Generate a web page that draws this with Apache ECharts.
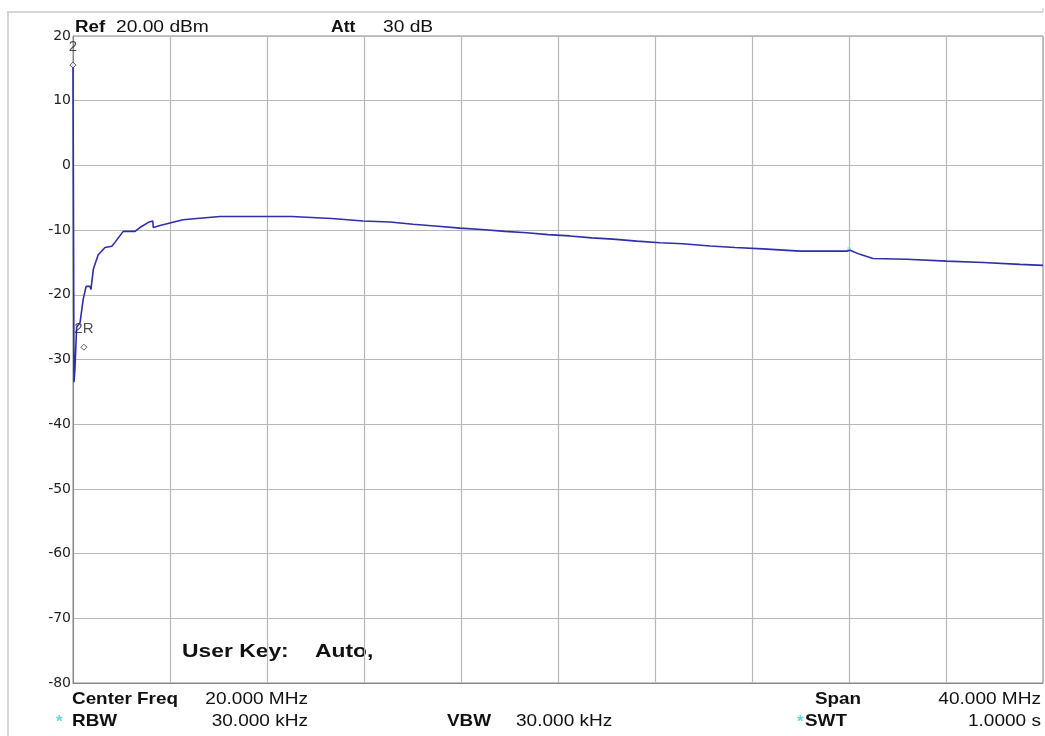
<!DOCTYPE html>
<html>
<head>
<meta charset="utf-8">
<script src="https://cdn.jsdelivr.net/npm/echarts@6/dist/echarts.min.js"></script>
<style>
html,body{margin:0;padding:0;background:#fff;}
#c{width:1045px;height:736px;}
</style>
</head>
<body>
<div id="c"></div>
<script>
// Frequency in MHz, level in dBm (trace 1)
const freqMHz = [0, 0.04, 0.08, 0.15, 0.29, 0.42, 0.54, 0.70, 0.74, 0.84, 1.04, 1.32, 1.60, 1.73, 2.07, 2.56, 2.76, 3.11, 3.29, 3.31, 3.59, 4.12, 4.54, 5.11, 6.06, 7.30, 9.02, 9.07, 10.67, 10.72, 11.96, 13.07, 14.02, 15.05, 15.96, 16.85, 17.81, 18.71, 19.59, 20.49, 21.39, 22.27, 23.25, 24.21, 25.15, 26.27, 27.30, 28.45, 29.98, 31.90, 32.04, 32.45, 32.99, 34.38, 36.03, 37.53, 39.05, 40.0];
const levelDbm = [15.5, -33.5, -31.5, -25.0, -24.3, -20.7, -18.7, -18.7, -19.2, -16.0, -13.8, -12.7, -12.5, -11.9, -10.2, -10.2, -9.6, -8.8, -8.6, -9.6, -9.3, -8.8, -8.4, -8.2, -7.9, -7.9, -7.9, -8.2, -8.2, -8.4, -8.6, -8.75, -9.1, -9.4, -9.7, -9.9, -10.2, -10.4, -10.7, -10.9, -11.2, -11.4, -11.7, -11.95, -12.1, -12.45, -12.7, -12.9, -13.25, -13.25, -13.1, -13.75, -14.4, -14.5, -14.8, -15.0, -15.3, -15.45];
// Markers
const markerNames = ['2', '2R'];
const markerFreq = [0, 0.45];
const markerLevel = [15.5, -28.1];
const cyanMarkerFreq = [32.0];
const cyanMarkerLevel = [-12.9];
// Axes
const freqMin = 0, freqMax = 40, freqStep = 4;
const levelMin = -80, levelMax = 20, levelStep = 10;

const traceData = freqMHz.map((f, i) => [f, levelDbm[i]]);
const markerData = markerFreq.map((f, i) => ({ value: [f, markerLevel[i]], name: markerNames[i] }));
const cyanData = cyanMarkerFreq.map((f, i) => [f, cyanMarkerLevel[i]]);

const chart = echarts.init(document.getElementById('c'), null, { renderer: 'canvas' });
const FONT = '"Liberation Sans", Arial, sans-serif';
function t(x, y, s, o) {
  o = o || {};
  return {
    type: 'text', x: x, y: y, scaleX: o.sx || 1.12,
    style: {
      text: s, font: (o.bold ? 'bold ' : '') + (o.size || 17) + 'px ' + FONT,
      fill: o.fill || '#111', align: o.align || 'left', verticalAlign: 'middle'
    }
  };
}

chart.setOption({
  animation: false,
  backgroundColor: '#fff',
  grid: { left: 73, right: 2, top: 36, bottom: 53, show: true, borderColor: '#888', borderWidth: 1 },
  xAxis: {
    type: 'value', min: freqMin, max: freqMax, interval: freqStep,
    axisLabel: { show: false }, axisTick: { show: false },
    axisLine: { show: true, onZero: false, lineStyle: { color: '#888', width: 1 } },
    splitLine: { show: true, lineStyle: { color: '#b8b8b8', width: 1.2 } }
  },
  yAxis: {
    type: 'value', min: levelMin, max: levelMax, interval: levelStep,
    axisLabel: { color: '#222', fontSize: 14, fontFamily: '"DejaVu Sans", sans-serif', margin: 2 },
    axisTick: { show: false },
    axisLine: { show: true, lineStyle: { color: '#888', width: 1 } },
    splitLine: { show: true, lineStyle: { color: '#b8b8b8', width: 1.2 } }
  },
  series: [
    {
      type: 'line', data: traceData, showSymbol: false, symbol: 'none',
      lineStyle: { color: '#2e2eaa', width: 1.6 }, z: 3
    },
    {
      type: 'scatter', data: markerData, symbol: 'diamond', symbolSize: 6,
      itemStyle: { color: '#fff', borderColor: '#333', borderWidth: 1 }, z: 4,
      label: {
        show: true, formatter: p => p.name, position: 'top', distance: 7,
        color: '#222', fontSize: 15, fontFamily: FONT
      }
    },
    {
      type: 'scatter', data: cyanData, symbol: 'circle', symbolSize: 4,
      itemStyle: { color: '#7fe3e8' }, z: 2
    }
  ],
  graphic: [
    { type: 'line', shape: { x1: 7, y1: 12, x2: 1043, y2: 12 }, style: { stroke: '#c8c8c8', lineWidth: 1.5 } },
    { type: 'line', shape: { x1: 8, y1: 12, x2: 8, y2: 736 }, style: { stroke: '#c8c8c8', lineWidth: 1.5 } },
    { type: 'line', shape: { x1: 1043, y1: 8, x2: 1043, y2: 12 }, style: { stroke: '#c8c8c8', lineWidth: 1 } },
    t(75, 27.5, 'Ref', { bold: true, size: 16, sx: 1.17 }),
    t(116, 27.5, '20.00 dBm', { size: 16, sx: 1.2 }),
    t(331, 27.5, 'Att', { bold: true, size: 16, sx: 1.1 }),
    t(383, 27.5, '30 dB', { size: 16, sx: 1.2 }),
    t(182, 652, 'User Key:', { bold: true, size: 18, sx: 1.27 }),
    t(315, 652, 'Auto,', { bold: true, size: 18, sx: 1.27 }),
    t(72, 699.5, 'Center Freq', { bold: true, sx: 1.11 }),
    t(308, 699.5, '20.000 MHz', { align: 'right' }),
    t(56, 722, '*', { bold: true, size: 17, fill: '#5fd8df', sx: 1 }),
    t(72, 721, 'RBW', { bold: true, sx: 1.11 }),
    t(308, 721, '30.000 kHz', { align: 'right' }),
    t(447, 721, 'VBW', { bold: true, sx: 1.11 }),
    t(516, 721, '30.000 kHz'),
    t(815, 699.5, 'Span', { bold: true, sx: 1.11 }),
    t(1041, 699.5, '40.000 MHz', { align: 'right' }),
    t(797, 722, '*', { bold: true, size: 17, fill: '#5fd8df', sx: 1 }),
    t(805, 721, 'SWT', { bold: true, sx: 1.11 }),
    t(1041, 721, '1.0000 s', { align: 'right' })
  ]
});
</script>
</body>
</html>
